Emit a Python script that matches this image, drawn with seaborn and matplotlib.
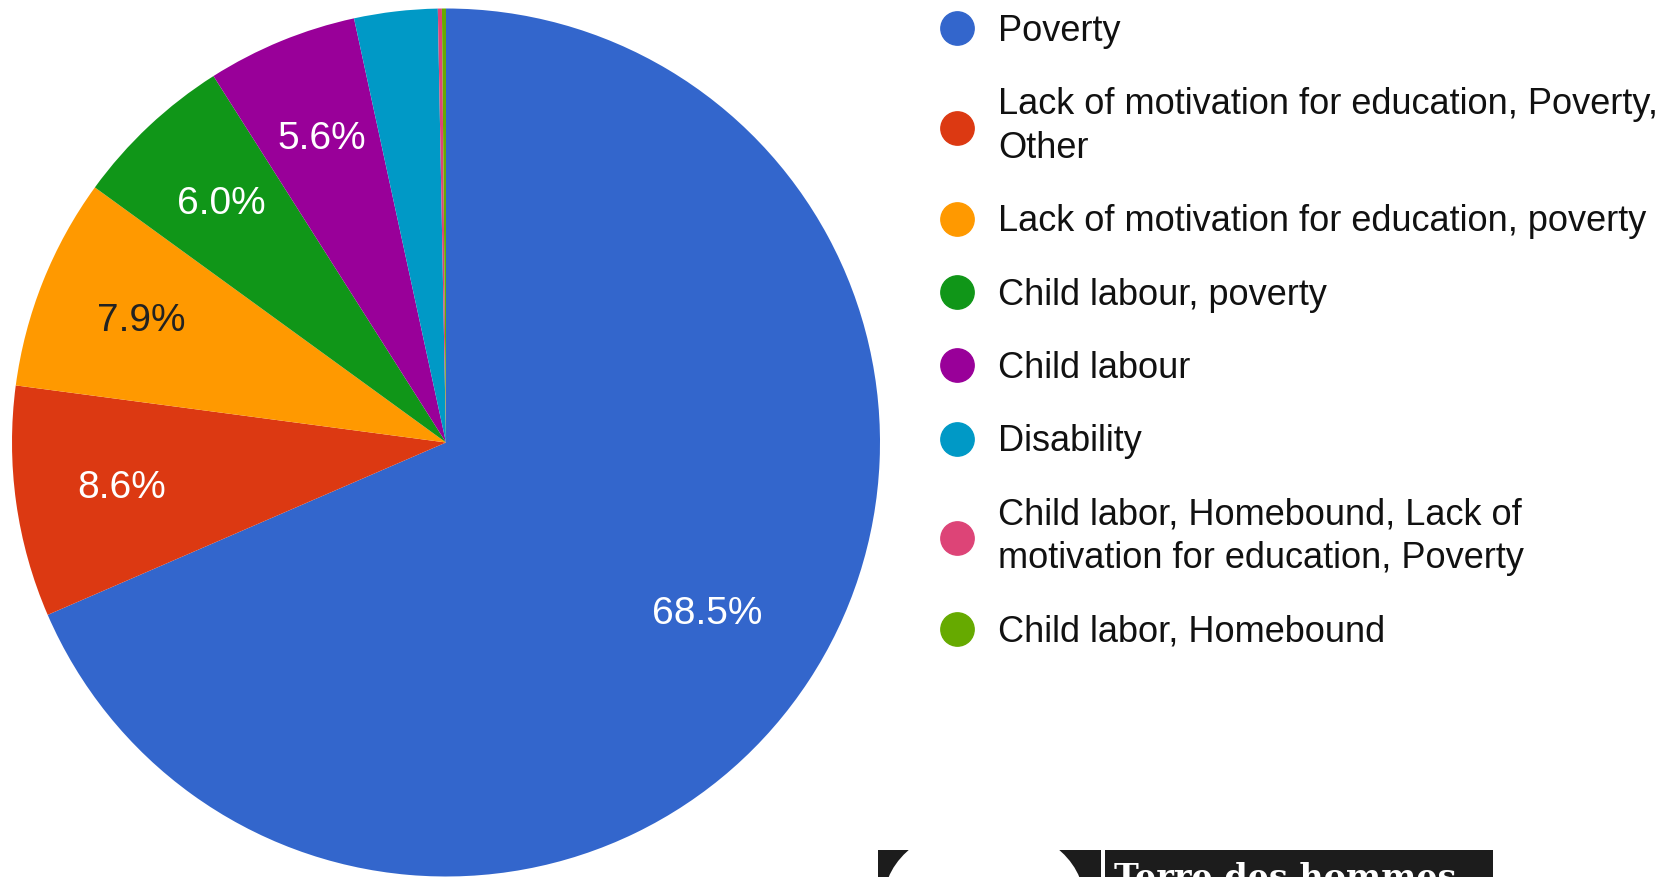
import math
import matplotlib
matplotlib.use("Agg")
import matplotlib.pyplot as plt
import seaborn as sns
from matplotlib.lines import Line2D
from matplotlib.patches import Rectangle, Ellipse

# Reasons given for children being out of school (share of responses, %)
categories = [
    "Poverty",
    "Lack of motivation for education, Poverty,\nOther",
    "Lack of motivation for education, poverty",
    "Child labour, poverty",
    "Child labour",
    "Disability",
    "Child labor, Homebound, Lack of\nmotivation for education, Poverty",
    "Child labor, Homebound",
]
shares = [68.5, 8.6, 7.9, 6.0, 5.6, 3.1, 0.15, 0.15]
slice_colors = ["#3366cc", "#dc3912", "#ff9900", "#109618",
                "#990099", "#0099c6", "#dd4477", "#66aa00"]
pct_text_colors = ["white", "white", "#222222", "white",
                   "white", "white", "white", "white"]

sns.set_theme(style="white")
plt.rcParams["font.family"] = ["Liberation Sans", "DejaVu Sans"]

W, H = 1658, 877
fig = plt.figure(figsize=(W / 100, H / 100), dpi=100)
fig.patch.set_facecolor("white")

# square axes holding the pie
cx, cy, r = 446, 442.5, 434
ax = fig.add_axes([(cx - r) / W, (H - cy - r) / H, 2 * r / W, 2 * r / H])
palette = sns.color_palette(slice_colors)

wedges, texts, autotexts = ax.pie(
    shares,
    colors=palette,
    startangle=90,
    counterclock=False,
    autopct=lambda p: f"{p:.1f}%" if p >= 5 else "",
    pctdistance=0.755,
    textprops=dict(fontsize=28),
    wedgeprops=dict(linewidth=0),
)
for t, c in zip(autotexts, pct_text_colors):
    t.set_color(c)

# the big slice carries its label a little closer to the centre
w0 = wedges[0]
mid = math.radians((w0.theta1 + w0.theta2) / 2)
autotexts[0].set_position((0.72 * math.cos(mid), 0.72 * math.sin(mid)))

ax.set_xlim(-1, 1)
ax.set_ylim(-1, 1)
ax.set_aspect("equal")
ax.axis("off")

# legend with round swatches
handles = [
    Line2D([0], [0], marker="o", linestyle="", markersize=24,
           markerfacecolor=c, markeredgecolor=c)
    for c in palette
]
leg = fig.legend(
    handles, categories,
    loc="upper left",
    bbox_to_anchor=(939 / W, 1 - 14 / H),
    frameon=False,
    fontsize=26,
    handlelength=1.0,
    handletextpad=0.64,
    labelspacing=1.06,
    borderpad=0,
    borderaxespad=0,
    labelcolor="#111111",
)
for t in leg.get_texts():
    t.set_linespacing(1.33)

# organisation banner along the bottom edge
fig.add_artist(Rectangle((878 / W, 0), (1493 - 878) / W, 27 / H,
                         transform=fig.transFigure, color="#1c1c1c", lw=0))
fig.add_artist(Ellipse((984 / W, -23 / H), 200 / W, 152 / H,
                       transform=fig.transFigure, color="white", lw=0))
fig.add_artist(Rectangle((1101 / W, 0), 4 / W, 27 / H,
                         transform=fig.transFigure, color="white", lw=0))
fig.text(1114 / W, 1 - 862 / H, "Terre des hommes", color="white",
         fontsize=24, family="DejaVu Serif", weight="bold",
         va="top", ha="left")

fig.savefig("out.png", dpi=100, facecolor="white")
